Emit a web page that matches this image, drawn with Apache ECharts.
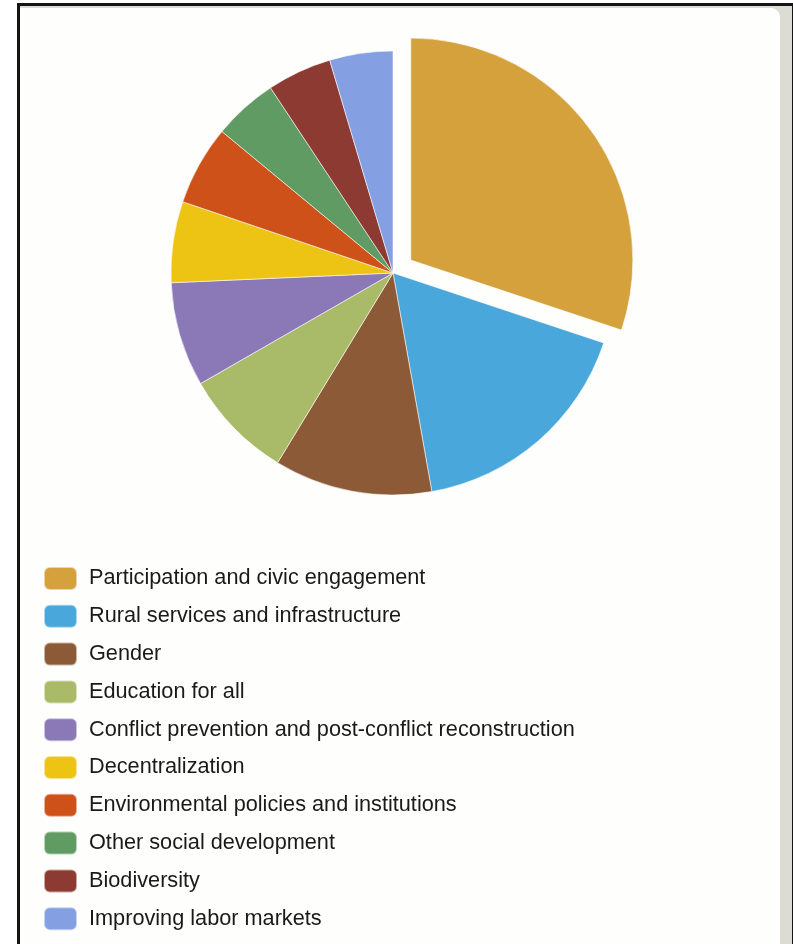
<!DOCTYPE html>
<html>
<head>
<meta charset="utf-8">
<script src="https://cdn.jsdelivr.net/npm/echarts@6/dist/echarts.min.js"></script>
<style>
  body {margin: 0; background: #ffffff;}
  #frame {position: absolute; left: 17px; top: 3px; width: 772px; height: 960px;
    border: 3px solid #141414; border-bottom: none; background: #dcdcd4;}
  #panel {position: absolute; left: 0; top: 2px; width: 760px; height: 960px;
    background: #fefefc; border-top-right-radius: 9px;}
  #pieChart {position: absolute; left: 0; top: 0; width: 793px; height: 944px;}
</style>
</head>
<body>
<div id="frame"><div id="panel"></div></div>
<div id="pieChart"></div>
<script>
  const categories = [
    'Participation and civic engagement',
    'Rural services and infrastructure',
    'Gender',
    'Education for all',
    'Conflict prevention and post-conflict reconstruction',
    'Decentralization',
    'Environmental policies and institutions',
    'Other social development',
    'Biodiversity',
    'Improving labor markets'
  ];
  // share of each theme, %
  const shares = [30.1, 17.1, 11.5, 8.0, 7.6, 5.9, 5.8, 4.7, 4.7, 4.6];
  const colors = ['#d4a13c', '#49a7dc', '#8c5a36', '#a9bb69', '#8b78b6',
    '#eec414', '#cd5119', '#5f9b63', '#8c3a32', '#84a0e2'];

  let chart = echarts.init(document.getElementById('pieChart'), null, {renderer: 'canvas'});
  let option = {
    backgroundColor: 'transparent',
    color: colors,
    animation: false,
    legend: {
      orient: 'vertical',
      left: 43,
      top: 566,
      height: 370,
      padding: 0,
      icon: 'roundRect',
      itemWidth: 33,
      itemHeight: 23,
      itemGap: 12.8,
      selectedMode: false,
      data: categories,
      textStyle: {
        color: '#1a1a1a',
        fontSize: 21.7,
        lineHeight: 23,
        fontFamily: 'Liberation Sans, Arial, sans-serif',
        padding: [0, 0, 0, 7]
      }
    },
    series: [
      {
        type: 'pie',
        center: [393, 273],
        radius: 222,
        startAngle: 90,
        clockwise: true,
        selectedMode: 'single',
        selectedOffset: 22,
        label: {show: false},
        labelLine: {show: false},
        emphasis: {disabled: true},
        itemStyle: {
          borderColor: 'rgba(255,255,255,0.55)',
          borderWidth: 1
        },
        data: categories.map(function (name, i) {
          return {name: name, value: shares[i], selected: i === 0};
        })
      }
    ]
  };
  chart.setOption(option);
</script>
</body>
</html>
